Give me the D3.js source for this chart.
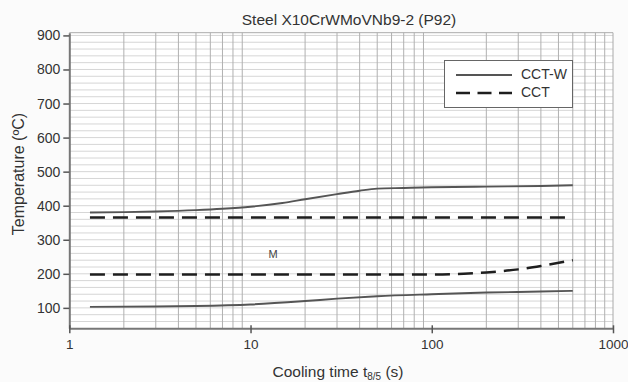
<!DOCTYPE html>
<html><head><meta charset="utf-8">
<script src="https://cdn.jsdelivr.net/npm/d3@7"></script>
<style>
html,body{margin:0;padding:0;background:#fbfbfb;}
svg{display:block;font-family:"Liberation Sans",Arial,sans-serif;}
</style></head>
<body><svg id="c" width="628" height="382"></svg>
<script>
const title = "Steel X10CrWMoVNb9-2 (P92)";
const xTicks = [1, 10, 100, 1000];
const yTicks = [100, 200, 300, 400, 500, 600, 700, 800, 900];
const legendLabels = ["CCT-W", "CCT"];

const cctwUpperT = [1.3, 2, 3, 5, 7, 10, 15, 20, 30, 40, 50, 70, 100, 200, 400, 600];
const cctwUpperV = [380, 381, 383, 387, 391, 397, 408, 419, 434, 444, 450, 452, 454, 456, 458, 460];
const cctwLowerT = [1.3, 3, 5, 10, 20, 30, 50, 100, 200, 400, 600];
const cctwLowerV = [103, 104, 105.5, 110, 120, 127, 134, 140, 145, 148, 150];
const cctUpperT = [1.3, 600];
const cctUpperV = [365, 365];
const cctLowerT = [1.3, 10, 100, 150, 200, 300, 400, 600];
const cctLowerV = [198, 198, 198, 200, 204, 213, 223, 240];
const regionLabel = {t: 13.3, v: 256, text: "M"};

const svg = d3.select("#c");
const L = 69.3, R = 613, T = 32.7, B = 328.3;
const x = d3.scaleLog().domain([1, 1000]).range([L, R]);
const y = d3.scaleLinear().domain([40, 908]).range([B, T]);

svg.append("rect").attr("x", L).attr("y", T).attr("width", R - L).attr("height", B - T).attr("fill", "#fff");

// horizontal grid every 20
const hg = d3.range(60, 908, 20);
svg.append("g").selectAll("line").data(hg).join("line")
  .attr("x1", L).attr("x2", R).attr("y1", d => y(d)).attr("y2", d => y(d))
  .attr("stroke", "#d6d6d6").attr("stroke-width", 1);

// vertical grid minors
const vg = [];
[1, 10, 100].forEach(dec => { for (let k = 2; k <= 9; k++) vg.push(dec * k); });
svg.append("g").selectAll("line").data(vg).join("line")
  .attr("x1", d => x(d)).attr("x2", d => x(d)).attr("y1", T).attr("y2", B)
  .attr("stroke", "#b0b0b0").attr("stroke-width", 1);

// frame
svg.append("line").attr("x1", L).attr("x2", R).attr("y1", T).attr("y2", T).attr("stroke", "#aaa");
svg.append("line").attr("x1", R).attr("x2", R).attr("y1", T).attr("y2", B).attr("stroke", "#aaa");

// axes
const yAxis = svg.append("g").attr("transform", `translate(${L},0)`)
  .call(d3.axisLeft(y).tickValues(yTicks).tickSize(6).tickSizeOuter(0).tickPadding(3));
const xAxis = svg.append("g").attr("transform", `translate(0,${B})`)
  .call(d3.axisBottom(x).tickValues(xTicks).tickFormat(d3.format("d")).tickSize(5).tickSizeOuter(0).tickPadding(6));
[yAxis, xAxis].forEach(g => {
  g.select(".domain").attr("stroke", "#777").attr("stroke-width", 2);
  g.selectAll(".tick line").attr("stroke", "#555").attr("stroke-width", 1.5);
  g.selectAll(".tick text").attr("fill", "#333").style("font-family", "Liberation Sans, Arial, sans-serif");
});
yAxis.selectAll(".tick text").style("font-size", "14px");
xAxis.selectAll(".tick text").style("font-size", "13.5px");
xAxis.selectAll(".tick line").attr("y1", -3);

const line = d3.line().x(d => x(d[0])).y(d => y(d[1])).curve(d3.curveMonotoneX);
const zip = (a, b) => a.map((t, i) => [t, b[i]]);

const solid = {stroke: "#555", w: 1.9, dash: null};
const dashed = {stroke: "#1e1e1e", w: 2.5, dash: "15,8"};
[[cctwUpperT, cctwUpperV, solid], [cctwLowerT, cctwLowerV, solid],
 [cctUpperT, cctUpperV, dashed], [cctLowerT, cctLowerV, dashed]].forEach(([t, v, s]) => {
  svg.append("path").attr("d", line(zip(t, v))).attr("fill", "none")
    .attr("stroke", s.stroke).attr("stroke-width", s.w).attr("stroke-dasharray", s.dash);
});

svg.append("text").attr("x", x(regionLabel.t)).attr("y", y(regionLabel.v)).attr("text-anchor", "middle")
  .attr("dominant-baseline", "middle").style("font-size", "11px").attr("fill", "#444").text(regionLabel.text);

// legend
const lg = svg.append("g");
lg.append("rect").attr("x", 444.5).attr("y", 60.5).attr("width", 128).attr("height", 47)
  .attr("fill", "#fff").attr("stroke", "#666").attr("stroke-width", 1);
const styles = [solid, dashed];
legendLabels.forEach((lab, i) => {
  const yy = 75 + i * 18;
  lg.append("line").attr("x1", 456).attr("x2", 512).attr("y1", yy).attr("y2", yy)
    .attr("stroke", styles[i].stroke).attr("stroke-width", styles[i].w).attr("stroke-dasharray", i ? "14,7.5" : null);
  lg.append("text").attr("x", 521).attr("y", yy).attr("dominant-baseline", "middle")
    .style("font-size", "14px").attr("fill", "#333").text(lab);
});

// title and labels
svg.append("text").attr("x", 349).attr("y", 25).attr("text-anchor", "middle")
  .style("font-size", "15.5px").attr("fill", "#333").text(title);
svg.append("text").attr("transform", "translate(24,174) rotate(-90)").attr("text-anchor", "middle")
  .style("font-size", "16px").attr("fill", "#333").text("Temperature (ºC)");
const xl = svg.append("text").attr("x", 338).attr("y", 377).attr("text-anchor", "middle")
  .style("font-size", "15.5px").attr("fill", "#333");
xl.append("tspan").text("Cooling time t");
xl.append("tspan").attr("dy", 3).style("font-size", "10px").text("8/5");
xl.append("tspan").attr("dy", -3).text(" (s)");
</script></body></html>
